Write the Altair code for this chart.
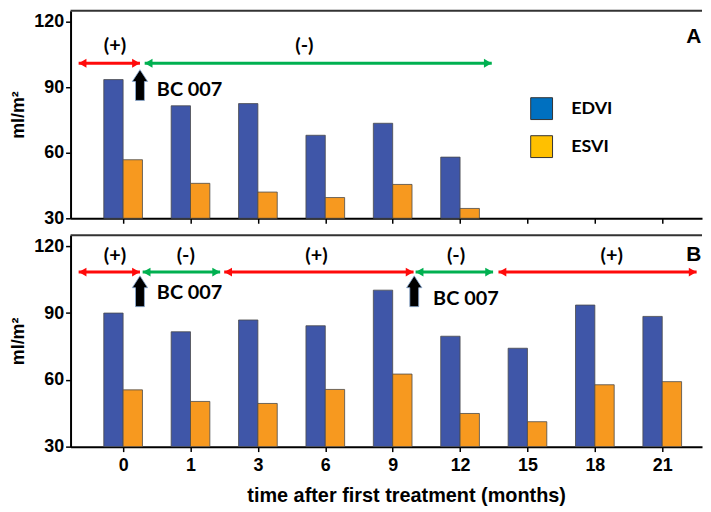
import json
import altair as alt
import pandas as pd

# ---------------- data ----------------
months = ["0", "1", "3", "6", "9", "12", "15", "18", "21"]
series = ["EDVI", "ESVI"]
edvi_A = [93.5, 81.5, 82.5, 68.0, 73.5, 58.0]
esvi_A = [56.8, 46.0, 42.0, 39.5, 45.5, 34.5]
edvi_B = [90.0, 81.6, 86.9, 84.3, 100.3, 79.6, 74.2, 93.6, 88.5]
esvi_B = [55.5, 50.3, 49.4, 55.7, 62.6, 44.9, 41.2, 57.8, 59.2]

# treatment phases (in category-index units along the time axis)
phaseA_from = [-0.66, 0.32]
phaseA_to = [0.25, 5.47]
phaseA_sign = ["(+)", "(-)"]
phaseA_label_x = [-0.12, 2.69]
phaseB_from = [-0.66, 0.29, 1.50, 4.34, 5.57]
phaseB_to = [0.25, 1.44, 4.31, 5.49, 8.51]
phaseB_sign = ["(+)", "(-)", "(+)", "(-)", "(+)"]
phaseB_label_x = [-0.12, 0.93, 2.87, 4.94, 7.25]

# BC 007 administration markers
bcA_x = [0.25]
bcA_y = [91.0]
bcA_text_x = [0.5]
bcA_text_y = [88.8]
bcB_x = [0.25, 4.32]
bcB_y = [99.8, 99.8]
bcB_text_x = [0.5, 4.6]
bcB_text_y = [99.0, 96.3]

# ---------------- styling ----------------
BAR_COLORS = ["#3F56A8", "#F7991F"]
LEGEND_COLORS = ["#0070C0", "#FFC000"]
PHASE_COLORS = {"(+)": "#FF0A0A", "(-)": "#00B050"}
X_LO, X_HI = -0.78, 8.59
Y_LO, Y_HI = 30, 125
HALF = 0.287
W = 636
LABEL_FONT = "Liberation Sans"
ANN_FONT = "Lato"

label_expr = json.dumps(months).replace('"', "'") + "[datum.value]"


def bars_df(edvi, esvi):
    rows = []
    for i, (a, b) in enumerate(zip(edvi, esvi)):
        rows.append({"idx": i, "month": months[i], "series": series[0], "value": a})
        rows.append({"idx": i, "month": months[i], "series": series[1], "value": b})
    return pd.DataFrame(rows)


def panel(edvi, esvi, ph_from, ph_to, ph_sign, ph_lx, arrow_y, label_y,
          bx, by, btx, bty, letter, letter_y, height, bottom, legend=False):
    xscale = alt.Scale(domain=[X_LO, X_HI], nice=False, zero=False)
    yscale = alt.Scale(domain=[Y_LO, Y_HI], nice=False, zero=False)
    if bottom:
        xaxis = alt.Axis(values=list(range(len(months))), labelExpr=label_expr,
                         title="time after first treatment (months)", grid=False,
                         titleX=338, titlePadding=11, labelPadding=5)
    else:
        xaxis = alt.Axis(values=list(range(len(months))), labels=False, title=None,
                         grid=False)
    yaxis = alt.Axis(values=[30, 60, 90, 120], title="ml/m²", grid=False,
                     titlePadding=6, labelPadding=2)

    df = bars_df(edvi, esvi)
    bars = alt.Chart(df).transform_calculate(
        x0=f"datum.series == 'EDVI' ? datum.idx - {HALF} : datum.idx",
        x1=f"datum.series == 'EDVI' ? datum.idx : datum.idx + {HALF}",
    ).mark_bar(stroke="#4a4a4a", strokeWidth=0.8).encode(
        x=alt.X("x0:Q", scale=xscale, axis=xaxis),
        x2="x1:Q",
        y=alt.Y("value:Q", scale=yscale, axis=yaxis),
        y2=alt.datum(Y_LO),
        color=alt.Color("series:N", scale=alt.Scale(domain=series, range=BAR_COLORS),
                        legend=None),
    )

    frame = alt.Chart(pd.DataFrame({"a": [0]})).mark_rule(
        color="#333333", strokeWidth=2).encode(
        x=alt.datum(X_LO), x2=alt.datum(X_HI), y=alt.datum(Y_HI))

    ph = pd.DataFrame({"x0": ph_from, "x1": ph_to, "sign": ph_sign, "lx": ph_lx,
                       "y": [arrow_y] * len(ph_from), "ly": [label_y] * len(ph_from)})
    layers = [bars, frame]
    for sign, col in PHASE_COLORS.items():
        sub = ph[ph["sign"] == sign]
        if len(sub) == 0:
            continue
        layers.append(alt.Chart(sub).mark_rule(strokeWidth=3, color=col).encode(
            x="x0:Q", x2="x1:Q", y="y:Q"))
        layers.append(alt.Chart(sub).mark_point(
            shape="triangle-right", filled=True, size=80, opacity=1, xOffset=-4,
            color=col).encode(x="x1:Q", y="y:Q"))
        layers.append(alt.Chart(sub).mark_point(
            shape="triangle-left", filled=True, size=80, opacity=1, xOffset=4,
            color=col).encode(x="x0:Q", y="y:Q"))
    signs = alt.Chart(ph).mark_text(font=ANN_FONT, fontWeight="bold", fontSize=20,
                                    color="black", baseline="middle").encode(
        x="lx:Q", y="ly:Q", text="sign:N")

    bc = pd.DataFrame({"x": bx, "y": by, "tx": btx, "ty": bty, "t": ["BC 007"] * len(bx)})
    up = alt.Chart(bc).mark_point(
        shape="M-0.29,1L0.29,1L0.29,-0.23L0.5,-0.23L0,-1L-0.5,-0.23L-0.29,-0.23Z",
        filled=True, size=961, fill="black", stroke="#8FB0D8", strokeWidth=0.8,
        opacity=1).encode(x="x:Q", y="y:Q")
    bct = alt.Chart(bc).mark_text(font=ANN_FONT, fontWeight="bold", fontSize=20,
                                  color="black", align="left", baseline="middle").encode(
        x="tx:Q", y="ty:Q", text="t:N")

    let = alt.Chart(pd.DataFrame({"t": [letter], "x": [8.58], "y": [letter_y]})).mark_text(
        font=LABEL_FONT, fontWeight="bold", fontSize=21, color="black",
        align="right", baseline="middle").encode(x="x:Q", y="y:Q", text="t:N")

    layers += [signs, up, bct, let]

    if legend:
        for name, col, ly in zip(series, LEGEND_COLORS, [80.2, 62.8]):
            ld = pd.DataFrame({"x": [6.21], "tx": [6.65], "y": [ly], "t": [name]})
            layers.append(alt.Chart(ld).mark_point(
                shape="square", filled=True, size=484, fill=col, stroke="#333333",
                strokeWidth=1, opacity=1).encode(x="x:Q", y="y:Q"))
            layers.append(alt.Chart(ld).mark_text(
                font=ANN_FONT, fontWeight="bold", fontSize=18, color="black",
                align="left", baseline="middle").encode(x="tx:Q", y="y:Q", text="t:N"))

    return alt.layer(*layers).properties(width=W, height=height)


top = panel(edvi_A, esvi_A, phaseA_from, phaseA_to, phaseA_sign, phaseA_label_x,
            101.0, 108.7, bcA_x, bcA_y, bcA_text_x, bcA_text_y, "A", 112.8,
            209, False, legend=True)
bottom = panel(edvi_B, esvi_B, phaseB_from, phaseB_to, phaseB_sign, phaseB_label_x,
               108.4, 115.5, bcB_x, bcB_y, bcB_text_x, bcB_text_y, "B", 116.0,
               213, True)

chart = alt.vconcat(top, bottom, spacing=17, bounds="flush").properties(
    padding={"left": 1, "top": 0, "right": 0, "bottom": 0}
).configure_view(stroke=None).configure_axis(
    domainColor="black", domainWidth=2, tickColor="black", tickWidth=1.5, tickSize=5,
    labelFont=LABEL_FONT, labelFontWeight="bold", labelFontSize=18, labelColor="black",
    titleFont=LABEL_FONT, titleFontWeight="bold", titleFontSize=20, titleColor="black",
).configure_axisY(titleFontSize=18)

chart.save("out.html", embed_options={"renderer": "svg", "actions": False})
